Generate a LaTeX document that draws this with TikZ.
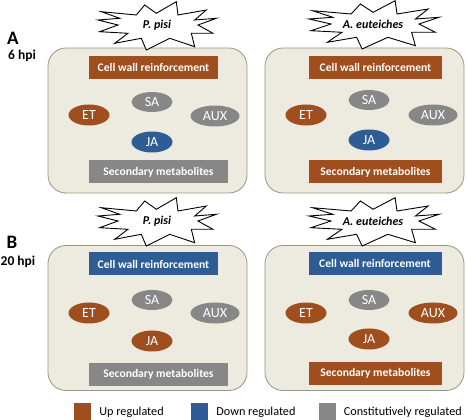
\documentclass[tikz,border=0pt]{standalone}
\usepackage{fontspec}
\setmainfont{Carlito}
\usepackage{xcolor}
\definecolor{brique}{HTML}{A04E1E}
\definecolor{bleu}{HTML}{2E5D95}
\definecolor{gris}{HTML}{878787}
\definecolor{sable}{HTML}{EDEADF}
\definecolor{bord}{HTML}{9A9580}
\usepackage{tikz}
\usetikzlibrary{positioning,shapes.geometric}

\begin{document}
\begin{tikzpicture}[x=1pt,y=-1pt,
  panel/.style={draw=bord,fill=sable,thick,rounded corners=18pt,minimum width=199pt,minimum height=145pt},
  bar/.style={text=white,font=\bfseries\fontsize{11.6}{13}\selectfont,minimum height=23pt,inner sep=0pt},
  horm/.style={ellipse,text=white,font=\fontsize{14}{15}\selectfont,minimum height=21pt,minimum width=41pt,inner sep=0pt},
  pathogen/.style={font=\bfseries\itshape\fontsize{12}{13}\selectfont,inner sep=0pt},
  tag/.style={font=\bfseries\fontsize{13.5}{15}\selectfont,inner sep=0pt},
  lettre/.style={font=\bfseries\fontsize{19}{20}\selectfont,inner sep=0pt},
  swatch/.style={minimum width=17pt,minimum height=18pt,inner sep=0pt},
  legtxt/.style={font=\fontsize{12.2}{14}\selectfont,inner sep=0pt},
  burst/.pic={\draw[fill=white,line width=0.9pt,line join=miter] (-56.7,-13.3) -- (-21.7,-10) -- (-13.3,-20) -- (-1.7,-11.7)
    -- (18.3,-23.3) -- (20,-10) -- (48.3,-15) -- (36.7,-5) -- (58.3,-6.7) -- (40,0) -- (55,8.3)
    -- (33.3,8.3) -- (36.7,21.7) -- (11.7,13.3) -- (-11.7,25) -- (-16.7,13.3) -- (-43.3,18.3)
    -- (-30,8.3) -- (-58.3,6.7) -- (-40,0) -- (-60,-5) -- (-38.3,-6.7) -- cycle;}
]
\useasboundingbox (0,0) rectangle (467,420);

\node[lettre] (lA) at (13,38) {A};
\node[tag] (hA) at (22,56) {6 hpi};
\node[lettre] (lB) at (12,242) {B};
\node[tag] (hB) at (18,262) {20 hpi};

\node[panel] (pA1) at (147.5,120.5) {};
\node[panel] (pA2) at (364.5,120.5) {};
\node[panel] (pB1) at (147.5,318) {};
\node[panel] (pB2) at (364.5,318) {};

\pic at (158,25) {burst};
\node[pathogen] (stA1) at (157,25) {P. pisi};
\pic[xscale=1.1] at (375,24) {burst};
\node[pathogen] (stA2) at (373,24) {A. euteiches};
\pic at (158,221) {burst};
\node[pathogen] (stB1) at (157,221) {P. pisi};
\pic[xscale=1.1] at (375,221) {burst};
\node[pathogen] (stB2) at (373,221) {A. euteiches};

\node[bar,fill=brique,minimum width=129pt] (cwA1) at (153.5,67.5) {Cell wall reinforcement};
\node[horm,fill=brique] (etA1) at (89,115) {ET};
\node[horm,fill=gris,minimum height=20pt] (saA1) at (152,102) {SA};
\node[horm,fill=gris,minimum width=49pt] (auxA1) at (215,116) {AUX};
\node[horm,fill=bleu] (jaA1) at (152,142) {JA};
\node[bar,fill=gris,minimum width=139pt] (smA1) at (158.5,172) {Secondary metabolites};

\node[bar,fill=brique,minimum width=133pt] (cwA2) at (375.5,67.5) {Cell wall reinforcement};
\node[horm,fill=brique] (etA2) at (306,115) {ET};
\node[horm,fill=gris,minimum height=20pt] (saA2) at (369,100) {SA};
\node[horm,fill=gris,minimum width=49pt] (auxA2) at (433,115) {AUX};
\node[horm,fill=bleu] (jaA2) at (369,140) {JA};
\node[bar,fill=brique,minimum width=133pt] (smA2) at (375.5,172) {Secondary metabolites};

\node[bar,fill=bleu,minimum width=129pt] (cwB1) at (153.5,264) {Cell wall reinforcement};
\node[horm,fill=brique] (etB1) at (89,313) {ET};
\node[horm,fill=gris,minimum height=20pt] (saB1) at (152,300) {SA};
\node[horm,fill=gris,minimum width=49pt] (auxB1) at (215,313) {AUX};
\node[horm,fill=brique] (jaB1) at (152,341) {JA};
\node[bar,fill=gris,minimum width=139pt] (smB1) at (158.5,374.5) {Secondary metabolites};

\node[bar,fill=bleu,minimum width=133pt] (cwB2) at (375,263.5) {Cell wall reinforcement};
\node[horm,fill=brique] (etB2) at (306,313) {ET};
\node[horm,fill=gris,minimum height=20pt] (saB2) at (369,300) {SA};
\node[horm,fill=brique,minimum width=49pt] (auxB2) at (433,313) {AUX};
\node[horm,fill=brique] (jaB2) at (369,339) {JA};
\node[bar,fill=brique,minimum width=133pt] (smB2) at (375.5,373.5) {Secondary metabolites};

\node[swatch,fill=brique] (up) at (82.5,412) {};
\node[legtxt,right=8pt of up] (upt) {Up regulated};
\node[swatch,fill=bleu] (down) at (199.5,412) {};
\node[legtxt,right=8pt of down] (downt) {Down regulated};
\node[swatch,fill=gris] (cst) at (327,412) {};
\node[legtxt,right=8pt of cst] (cstt) {Constitutively regulated};
\end{tikzpicture}
\end{document}
